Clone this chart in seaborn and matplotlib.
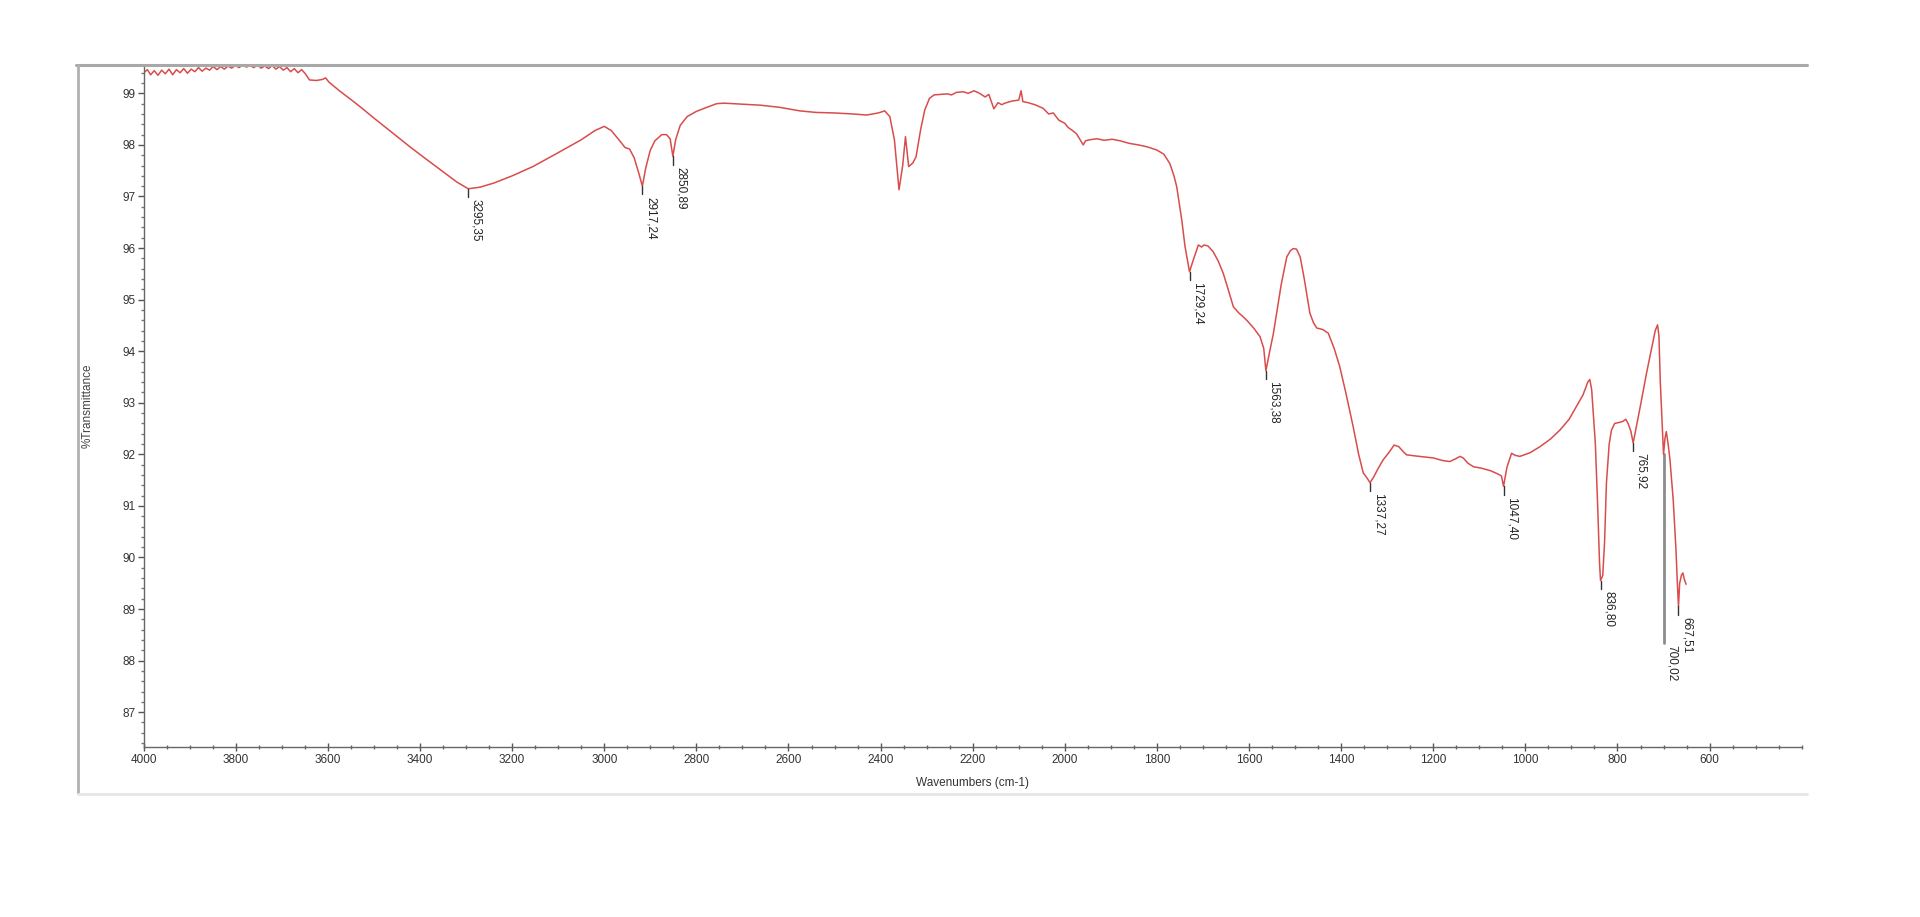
import matplotlib
matplotlib.use("Agg")
import matplotlib.pyplot as plt
from matplotlib.lines import Line2D
from matplotlib.ticker import MultipleLocator, FixedLocator
import seaborn as sns
import pandas as pd

# ---------------- data ----------------
wavenumber = [
    4000, 3992, 3985, 3977, 3969, 3961, 3953, 3945, 3937, 3929, 3921, 3913, 3905, 3897,
    3889, 3881, 3873, 3865, 3857, 3849, 3841, 3833, 3825, 3817, 3809, 3801, 3793, 3785,
    3777, 3769, 3761, 3753, 3745, 3737, 3729, 3721, 3713, 3705, 3697, 3689, 3681, 3673,
    3665, 3657, 3649,
    3640, 3625, 3612, 3605, 3598, 3575, 3550, 3530, 3500, 3458, 3420, 3386, 3350, 3320,
    3295.35, 3270, 3240, 3200, 3155, 3100, 3050, 3020, 3000, 2985, 2970, 2955, 2945, 2935,
    2925, 2917.24, 2910, 2900, 2890, 2875, 2865, 2857, 2851, 2845, 2835, 2820, 2800, 2780,
    2756, 2740, 2700, 2660, 2620, 2575, 2540, 2500, 2460, 2430, 2405, 2391, 2380, 2370,
    2360, 2352, 2346, 2339, 2330, 2323, 2313, 2304, 2294, 2284, 2270, 2255, 2246, 2235,
    2220, 2210, 2197, 2185, 2173, 2165, 2160, 2154, 2145, 2137, 2130, 2115, 2100, 2095,
    2091, 2080, 2065, 2047, 2035, 2025, 2013, 2000, 1993, 1985, 1975, 1968, 1960, 1955,
    1946, 1930, 1915, 1897, 1880, 1860, 1840, 1820, 1800, 1785, 1772, 1763, 1757, 1746,
    1739, 1729.24, 1721, 1710, 1703, 1698, 1689, 1678, 1667, 1656, 1645, 1634, 1622, 1613,
    1605, 1590, 1576, 1568, 1563.38, 1555, 1547, 1540, 1530, 1518, 1510, 1504, 1497, 1489,
    1480, 1468, 1460, 1453, 1440, 1428, 1415, 1403, 1390, 1374, 1362, 1352, 1343, 1337.27,
    1330, 1320, 1309, 1295, 1285, 1275, 1265, 1258, 1240, 1220, 1200, 1180, 1164, 1150,
    1142, 1135, 1125, 1113, 1095, 1075, 1060, 1052, 1047.40, 1040, 1030, 1022, 1012, 990,
    968, 945, 925, 905, 889, 875, 864, 860, 856, 848, 843, 839, 836.80, 832, 828, 824,
    818, 813, 806, 795, 788, 782, 777, 771, 765.92, 762, 759, 750, 737, 725, 718, 713,
    710, 707, 704, 700.02, 697, 694, 690, 686, 679, 673, 670, 667.51, 665, 661, 658, 655,
    651,
]
transmittance = [
    99.40, 99.46, 99.36, 99.44, 99.35, 99.45, 99.38, 99.47, 99.36, 99.46, 99.40, 99.48, 99.39, 99.47,
    99.42, 99.50, 99.43, 99.49, 99.45, 99.52, 99.46, 99.52, 99.47, 99.53, 99.49, 99.54, 99.50, 99.55,
    99.51, 99.54, 99.50, 99.55, 99.49, 99.53, 99.48, 99.54, 99.47, 99.52, 99.45, 99.50, 99.42, 99.48,
    99.40, 99.46, 99.38,
    99.26, 99.25, 99.27, 99.30, 99.22, 99.05, 98.88, 98.74, 98.52, 98.22, 97.95, 97.72, 97.48, 97.28,
    97.15, 97.18, 97.26, 97.40, 97.58, 97.85, 98.10, 98.28, 98.36, 98.28, 98.12, 97.95, 97.92, 97.75,
    97.45, 97.20, 97.55, 97.90, 98.08, 98.20, 98.20, 98.12, 97.78, 98.10, 98.38, 98.55, 98.65, 98.72,
    98.80, 98.81, 98.79, 98.77, 98.73, 98.66, 98.63, 98.62, 98.60, 98.58, 98.62, 98.66, 98.55, 98.10,
    97.13, 97.60, 98.16, 97.58, 97.65, 97.77, 98.30, 98.68, 98.90, 98.97, 98.98, 98.99, 98.97, 99.02,
    99.03, 99.00, 99.05, 99.00, 98.93, 98.98, 98.85, 98.70, 98.82, 98.78, 98.81, 98.85, 98.87, 99.05,
    98.84, 98.82, 98.78, 98.71, 98.60, 98.62, 98.48, 98.42, 98.34, 98.29, 98.22, 98.12, 98.00, 98.08,
    98.10, 98.12, 98.09, 98.11, 98.08, 98.03, 98.00, 97.96, 97.90, 97.82, 97.64, 97.40, 97.19, 96.54,
    96.03, 95.54, 95.77, 96.06, 96.02, 96.06, 96.04, 95.93, 95.75, 95.51, 95.19, 94.86, 94.74, 94.67,
    94.60, 94.45, 94.28, 94.05, 93.62, 94.00, 94.35, 94.74, 95.30, 95.83, 95.95, 95.99, 95.98, 95.83,
    95.40, 94.74, 94.55, 94.45, 94.42, 94.35, 94.05, 93.70, 93.20, 92.54, 92.00, 91.64, 91.53, 91.45,
    91.55, 91.72, 91.89, 92.05, 92.18, 92.15, 92.05, 91.99, 91.97, 91.95, 91.93, 91.88, 91.86, 91.92,
    91.96, 91.93, 91.83, 91.76, 91.73, 91.68, 91.62, 91.58, 91.38, 91.75, 92.02, 91.98, 91.96, 92.03,
    92.15, 92.30, 92.47, 92.68, 92.93, 93.15, 93.41, 93.45, 93.25, 92.20, 91.00, 89.90, 89.55, 89.65,
    90.30, 91.44, 92.20, 92.47, 92.60, 92.62, 92.64, 92.68, 92.60, 92.45, 92.22, 92.40, 92.54, 92.95,
    93.57, 94.10, 94.40, 94.51, 94.30, 93.40, 92.78, 92.00, 92.30, 92.44, 92.20, 91.89, 91.12, 90.15,
    89.50, 89.05, 89.50, 89.66, 89.70, 89.58, 89.48,
]

peak_wn = [3295.35, 2917.24, 2850.89, 1729.24, 1563.38, 1337.27, 1047.40, 836.80, 765.92, 700.02, 667.51]
peak_t = [97.15, 97.20, 97.78, 95.54, 93.62, 91.45, 91.38, 89.55, 92.22, 92.00, 89.05]
peak_marker_end = [96.99, 97.04, 97.62, 95.38, 93.46, 91.29, 91.22, 89.39, 92.06, 88.35, 88.89]
peak_labels = ["3295,35", "2917,24", "2850,89", "1729,24", "1563,38", "1337,27",
               "1047,40", "836,80", "765,92", "700,02", "667,51"]

x_major_ticks = [4000, 3800, 3600, 3400, 3200, 3000, 2800, 2600, 2400, 2200, 2000,
                 1800, 1600, 1400, 1200, 1000, 800, 600]
y_major_ticks = [87, 88, 89, 90, 91, 92, 93, 94, 95, 96, 97, 98, 99]

x_title = "Wavenumbers (cm-1)"
y_title = "%Transmittance"

# ---------------- styling ----------------
sns.set_style("ticks")
plt.rcParams["font.family"] = ["Liberation Sans", "DejaVu Sans"]

W, H = 1920, 917
fig = plt.figure(figsize=(W / 100, H / 100), dpi=100)
fig.patch.set_facecolor("white")

# outer panel frame (screenshot window)
fig.add_artist(Line2D([76 / W, 1807 / W], [1 - 65 / H, 1 - 65 / H], color="#a8a8a8", lw=2.2))
fig.add_artist(Line2D([78 / W, 78 / W], [1 - 65 / H, 1 - 793 / H], color="#b0b0b0", lw=2.0))
fig.add_artist(Line2D([78 / W, 1807 / W], [1 - 794 / H, 1 - 794 / H], color="#e6e6e6", lw=2.0))

ax = fig.add_axes([143.7 / W, 1 - 746.7 / H, (1801.7 - 143.7) / W, (746.7 - 65) / H])
ax.set_facecolor("white")

df = pd.DataFrame({"wavenumber": wavenumber, "transmittance": transmittance})
sns.lineplot(data=df, x="wavenumber", y="transmittance", ax=ax, sort=False,
             estimator=None, color="#d94c4c", lw=1.1)

# peak markers and labels
for wn, t, tend, lab in zip(peak_wn, peak_t, peak_marker_end, peak_labels):
    long = (t - tend) > 1
    ax.plot([wn, wn], [t, tend], color="#8c8c8c" if long else "#333333",
            lw=2.0 if long else 1.0, zorder=1 if long else 3)
    ax.annotate(lab, xy=(wn, tend), xytext=(1.5, -1.5), textcoords="offset points",
                rotation=270, ha="left", va="top", fontsize=8.5, color="#222222")

ax.set_xlim(4000, 400)
ax.set_ylim(86.33, 99.55)

ax.xaxis.set_major_locator(FixedLocator(x_major_ticks))
ax.xaxis.set_minor_locator(MultipleLocator(50))
ax.yaxis.set_major_locator(FixedLocator(y_major_ticks))
ax.yaxis.set_minor_locator(MultipleLocator(0.2))

ax.tick_params(axis="x", which="major", direction="inout", length=6, width=1,
               color="#555555", labelsize=8.5, labelcolor="#333333", pad=2)
ax.tick_params(axis="x", which="minor", direction="inout", length=3.5, width=1, color="#666666")
ax.tick_params(axis="y", which="major", direction="out", length=4, width=1,
               color="#555555", labelsize=8.5, labelcolor="#333333", pad=2)
ax.tick_params(axis="y", which="minor", direction="out", length=2, width=1, color="#777777")

for side in ["top", "right"]:
    ax.spines[side].set_visible(False)
for side in ["left", "bottom"]:
    ax.spines[side].set_color("#666666")
    ax.spines[side].set_linewidth(1.0)

ax.set_xlabel(x_title, fontsize=8.5, color="#333333", labelpad=8)
ax.set_ylabel(y_title, fontsize=8.5, color="#444444")
ax.yaxis.set_label_coords(-0.0304, 0.5)

fig.savefig("out.png", dpi=100, facecolor="white")
